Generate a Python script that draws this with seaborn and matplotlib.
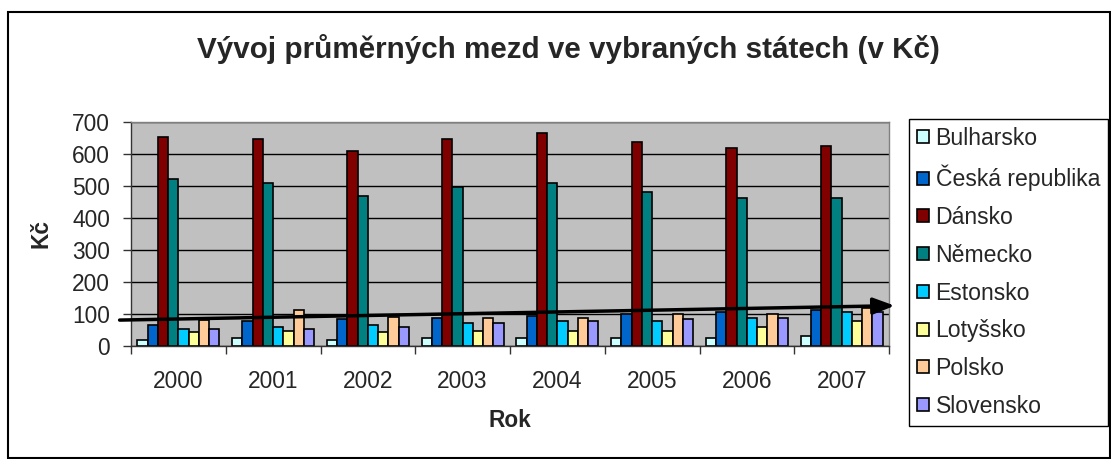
import numpy as np
import pandas as pd
import matplotlib
matplotlib.use('Agg')
import matplotlib.pyplot as plt
import seaborn as sns
from matplotlib.patches import Rectangle

# Data (average wages, Kč per hour)
years = ['2000', '2001', '2002', '2003', '2004', '2005', '2006', '2007']
bulharsko = [20, 26, 20, 26, 26, 26, 26, 31]
ceska_republika = [66, 78, 83, 89, 94, 101, 106, 112]
dansko = [654, 648, 609, 648, 666, 638, 619, 626]
nemecko = [521, 510, 469, 497, 510, 482, 464, 464]
estonsko = [54, 60, 66, 71, 78, 78, 89, 107]
lotyssko = [43, 48, 43, 48, 48, 48, 60, 77]
polsko = [82, 111, 92, 89, 89, 101, 101, 119]
slovensko = [54, 54, 60, 71, 78, 83, 89, 107]

countries = ['Bulharsko', 'Česká republika', 'Dánsko', 'Německo',
             'Estonsko', 'Lotyšsko', 'Polsko', 'Slovensko']
colors = ['#CCFFFF', '#0066CC', '#800000', '#008080',
          '#00CCFF', '#FFFF99', '#FFCC99', '#9999FF']

# hand-drawn trend arrow: values at its two ends
trend_values = [81, 126]

series = [bulharsko, ceska_republika, dansko, nemecko,
          estonsko, lotyssko, polsko, slovensko]
rows = []
for name, vals in zip(countries, series):
    for y, v in zip(years, vals):
        rows.append({'Rok': y, 'Země': name, 'Kč': v})
df = pd.DataFrame(rows)

sns.set_style('white')
plt.rcParams['font.family'] = ['Liberation Sans', 'DejaVu Sans']

fig = plt.figure(figsize=(11.11, 4.59), dpi=100)
ax = fig.add_axes([131 / 1111, 1 - 346 / 459, 758 / 1111, 224 / 459])

sns.barplot(data=df, x='Rok', y='Kč', hue='Země', hue_order=countries,
            palette=colors, width=0.865, edgecolor='black', linewidth=1.2,
            saturation=1, ax=ax, legend=True)

ax.set_facecolor('#C0C0C0')
ax.set_ylim(0, 700)
ax.set_xlim(-0.5, 7.5)
ax.set_yticks(range(0, 701, 100))
ax.yaxis.grid(True, color='black', linewidth=1)
ax.set_axisbelow(True)

ax.tick_params(axis='y', labelsize=16.4, length=6, width=1, color='#333333',
               direction='out', left=True, pad=9)
ax.tick_params(axis='x', which='major', labelsize=16.4, length=0, pad=17)
ax.set_xticks(np.arange(-0.5, 8, 1), minor=True)
ax.tick_params(axis='x', which='minor', length=6, width=1, color='#333333',
               direction='out', bottom=True)

for s in ['top', 'right']:
    ax.spines[s].set_color('#808080')
for s in ['left', 'bottom']:
    ax.spines[s].set_color('#333333')
for s in ax.spines.values():
    s.set_linewidth(1)

ax.set_xlabel('Rok', fontsize=16.3, fontweight='bold', labelpad=12)
ax.set_ylabel('Kč', fontsize=16.3, fontweight='bold', labelpad=14)

# trend arrow across the plot
ax.annotate('', xy=(7.56, trend_values[1]), xytext=(-0.62, trend_values[0]),
            arrowprops=dict(arrowstyle='-|>,head_length=1.3,head_width=0.5',
                            color='black', lw=2.5, shrinkA=0, shrinkB=0),
            annotation_clip=False)

fig.text(568 / 1111, 1 - 49 / 459,
         'Vývoj průměrných mezd ve vybraných státech (v Kč)',
         fontsize=21.3, fontweight='bold', ha='center', va='center')

handles, labels = ax.get_legend_handles_labels()
ax.legend_.remove()
leg = fig.legend(handles, labels, loc='upper left',
                 bbox_to_anchor=(909 / 1111, 1 - 119 / 459),
                 fontsize=16.6, frameon=True, fancybox=False,
                 edgecolor='black', framealpha=1, borderpad=0.35,
                 labelspacing=0.64, handlelength=0.5, handleheight=0.5,
                 handletextpad=0.3, borderaxespad=0)
leg.get_frame().set_linewidth(1)

# outer chart border
fig.patches.append(Rectangle((8 / 1111, 1 / 459), 1102 / 1111, 446 / 459,
                             transform=fig.transFigure, fill=False,
                             edgecolor='black', linewidth=1.5))

fig.savefig('out.png', dpi=100)
